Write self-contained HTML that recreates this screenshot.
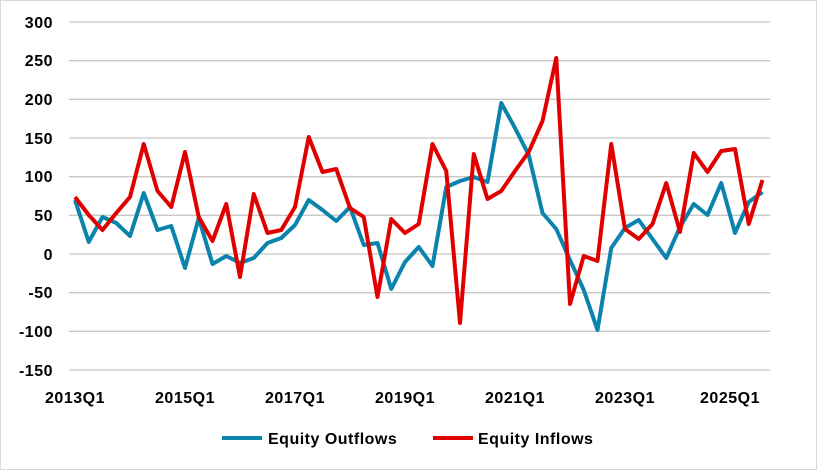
<!DOCTYPE html>
<html><head><meta charset="utf-8"><style>
body{margin:0;background:#fff}
svg{display:block;font-family:"Liberation Sans",Arial,sans-serif;font-weight:bold;font-size:16px;letter-spacing:0.5px}
</style></head><body>
<svg width="817" height="470" viewBox="0 0 817 470">
<rect x="0.5" y="0.5" width="816" height="469" fill="#fff" stroke="#d9d9d9"/>
<g stroke="#c8c8c8" stroke-width="1.3">
<line x1="69" x2="770" y1="22" y2="22"/><line x1="69" x2="770" y1="60.7" y2="60.7"/>
<line x1="69" x2="770" y1="99.3" y2="99.3"/><line x1="69" x2="770" y1="138" y2="138"/>
<line x1="69" x2="770" y1="176.7" y2="176.7"/><line x1="69" x2="770" y1="215.3" y2="215.3"/>
<line x1="69" x2="770" y1="254" y2="254"/><line x1="69" x2="770" y1="292.7" y2="292.7"/>
<line x1="69" x2="770" y1="331.3" y2="331.3"/><line x1="69" x2="770" y1="370" y2="370"/>
</g>
<g text-anchor="end" fill="#000">
<text x="53" y="28">300</text><text x="53" y="66">250</text><text x="53" y="105">200</text>
<text x="53" y="144">150</text><text x="53" y="182">100</text><text x="53" y="221">50</text>
<text x="53" y="260">0</text><text x="53" y="298">-50</text><text x="53" y="337">-100</text>
<text x="53" y="376">-150</text>
</g>
<g text-anchor="middle" fill="#000">
<text x="75" y="403">2013Q1</text><text x="185" y="403">2015Q1</text><text x="295" y="403">2017Q1</text>
<text x="405" y="403">2019Q1</text><text x="515" y="403">2021Q1</text><text x="625" y="403">2023Q1</text>
<text x="730" y="403">2025Q1</text>
</g>
<polyline fill="none" stroke="#0b84ad" stroke-width="4" stroke-linejoin="round" points="75,200 88.75,242 102.5,217 116.25,223 130,236 143.75,193 157.5,230 171.25,226 185,268 198.75,218 212.5,264 226.25,256 240,263 253.75,258 267.5,243 281.25,238 295,225 308.75,200 322.5,210 336.25,221 350,207 363.75,245 377.5,243 391.25,289 405,262 418.75,247 432.5,266 446.25,187 460,181 473.75,177 487.5,182 501.25,103 515,128 528.75,155 542.5,213 556.25,229 570,260 583.75,290 597.5,330 611.25,248 625,228 638.75,220 652.5,239 666.25,258 680,227 693.75,204 707.5,215 721.25,183 735,233 748.75,202 762.5,192"/>
<polyline fill="none" stroke="#e00000" stroke-width="4" stroke-linejoin="round" points="75,197 88.75,215 102.5,230 116.25,213 130,197 143.75,144 157.5,191 171.25,207 185,152 198.75,217 212.5,241 226.25,204 240,277 253.75,194 267.5,233 281.25,230 295,207 308.75,137 322.5,172 336.25,169 350,208 363.75,217 377.5,297 391.25,219 405,233 418.75,224 432.5,144 446.25,171 460,323 473.75,154 487.5,199 501.25,191 515,171 528.75,152 542.5,121 556.25,58 570,304 583.75,256 597.5,261 611.25,144 625,229 638.75,239 652.5,224 666.25,183 680,232 693.75,153 707.5,172 721.25,151 735,149 748.75,224 762.5,180"/>
<line x1="222" x2="262" y1="438" y2="438" stroke="#0b84ad" stroke-width="4"/>
<text x="268" y="444" fill="#000">Equity Outflows</text>
<line x1="433" x2="473" y1="438" y2="438" stroke="#e00000" stroke-width="4"/>
<text x="478" y="444" fill="#000">Equity Inflows</text>
</svg>
</body></html>
